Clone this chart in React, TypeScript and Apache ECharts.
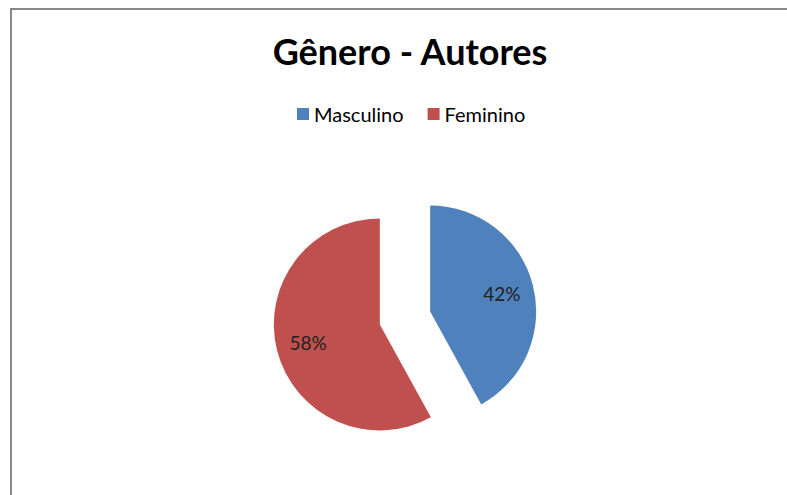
import React, { useEffect, useRef } from "react";
import * as echarts from "echarts";

const titleText = "Gênero - Autores";
const categories = ["Masculino", "Feminino"];
const values = [42, 58];
const colors = ["#4F81BD", "#C0504D"];

export default function App() {
  const ref = useRef<HTMLDivElement>(null);
  useEffect(() => {
    if (!ref.current) return;
    const chart = echarts.init(ref.current, null, { renderer: "svg" });
    const data = categories.map((name, i) => ({
      name,
      value: values[i],
      selected: true,
      itemStyle: { color: colors[i] },
    }));
    const center = [405, 318];
    chart.setOption({
      animation: false,
      backgroundColor: "#fff",
      title: {
        text: titleText,
        left: 405,
        textAlign: "center",
        top: 28,
        textStyle: { fontFamily: "Lato", fontWeight: "bold", fontSize: 36, color: "#000" },
      },
      legend: {
        data: categories.map((name, i) => ({ name, itemStyle: { color: colors[i] } })),
        top: 99,
        left: 292,
        icon: "rect",
        itemWidth: 12,
        itemHeight: 12,
        itemGap: 24,
        textStyle: { fontFamily: "Lato", fontSize: 20, color: "#000" },
      },
      graphic: [
        {
          type: "rect",
          shape: { x: 11, y: 9, width: 800, height: 500 },
          style: { fill: "none", stroke: "#888", lineWidth: 2 },
          silent: true,
        },
      ],
      series: [
        {
          type: "pie",
          center,
          radius: 106,
          startAngle: 90,
          clockwise: true,
          selectedMode: "multiple",
          selectedOffset: 26,
          data,
          label: { show: false },
          labelLine: { show: false },
          itemStyle: { borderWidth: 0 },
          select: { itemStyle: { borderWidth: 0 } },
          emphasis: { disabled: true },
        },
        {
          type: "pie",
          center,
          radius: [36, 106],
          startAngle: 90,
          clockwise: true,
          selectedMode: "multiple",
          selectedOffset: 26,
          silent: true,
          data: categories.map((name, i) => ({
            name,
            value: values[i],
            selected: true,
            itemStyle: { color: "rgba(0,0,0,0)" },
          })),
          label: {
            show: true,
            position: "inside",
            formatter: "{d}%",
            fontFamily: "Lato",
            fontSize: 19,
            color: "#222",
          },
          labelLine: { show: false },
          itemStyle: { borderWidth: 0 },
          select: { itemStyle: { borderWidth: 0, color: "rgba(0,0,0,0)" } },
          emphasis: { disabled: true },
        },
      ],
    });
    return () => chart.dispose();
  }, []);
  return (
    <div
      ref={ref}
      style={{ position: "fixed", left: 0, top: 0, width: 787, height: 495 }}
    />
  );
}
